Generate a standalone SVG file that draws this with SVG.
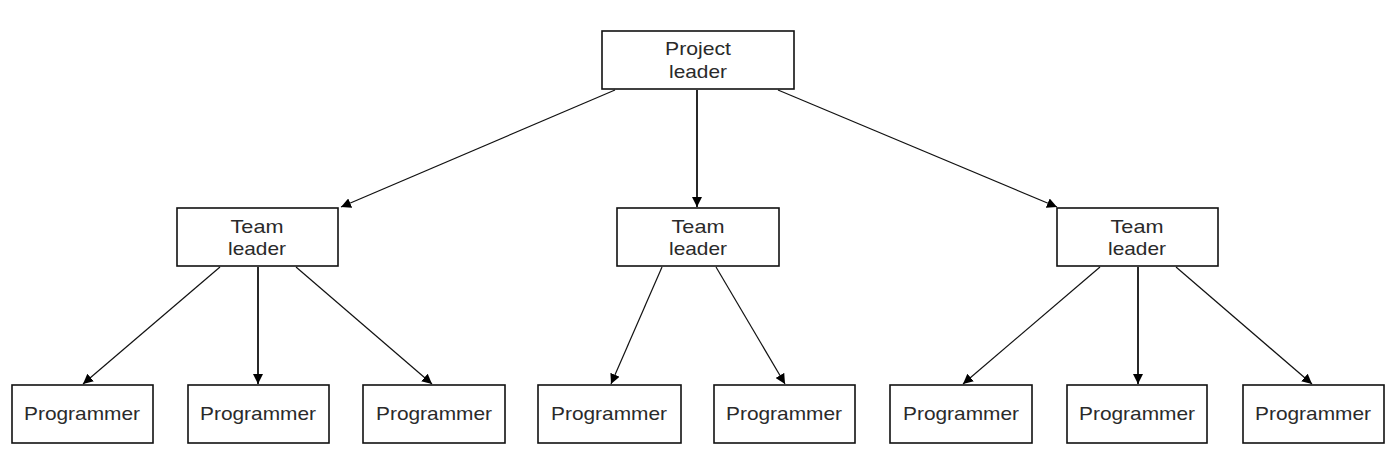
<svg xmlns="http://www.w3.org/2000/svg" width="1392" height="460" viewBox="0 0 1392 460">
<defs>
<marker id="ah" viewBox="0 0 10 10" refX="10" refY="5" markerWidth="10" markerHeight="10" markerUnits="userSpaceOnUse" orient="auto">
<path d="M0,0 L10,5 L0,10 Z" fill="#000"/>
</marker>
<style>
.box{fill:#fff;stroke:#111;stroke-width:1.6}
.t{font-family:"Liberation Sans",Arial,sans-serif;font-size:19px;fill:#2a2a2a;text-anchor:middle}
.c line{stroke:#111;stroke-width:1.2;marker-end:url(#ah)}
.c line.v{stroke-width:1.8}
</style>
</defs>
<rect width="1392" height="460" fill="#fff"/>
<g class="c" id="connectors">
<line x1="615" y1="90" x2="341" y2="207"/>
<line class="v" x1="697" y1="90" x2="697" y2="207"/>
<line x1="778" y1="90" x2="1057" y2="207"/>
<line x1="220" y1="267" x2="83" y2="384"/>
<line class="v" x1="258" y1="267" x2="258" y2="384"/>
<line x1="296" y1="267" x2="432" y2="384"/>
<line x1="662" y1="267" x2="611" y2="384"/>
<line x1="716" y1="267" x2="785" y2="384"/>
<line x1="1100" y1="267" x2="963" y2="384"/>
<line class="v" x1="1138" y1="267" x2="1138" y2="384"/>
<line x1="1176" y1="267" x2="1312" y2="384"/>
</g>
<g id="project-leader"><rect class="box" x="602" y="31" width="192" height="58"/><text class="t" x="698" y="55" textLength="66" lengthAdjust="spacingAndGlyphs">Project</text><text class="t" x="698" y="78" textLength="58" lengthAdjust="spacingAndGlyphs">leader</text></g>
<g id="team-leader-1"><rect class="box" x="177" y="208" width="161" height="58"/><text class="t" x="257" y="233" textLength="53" lengthAdjust="spacingAndGlyphs">Team</text><text class="t" x="257" y="255" textLength="58" lengthAdjust="spacingAndGlyphs">leader</text></g>
<g id="team-leader-2"><rect class="box" x="617" y="208" width="162" height="58"/><text class="t" x="698" y="233" textLength="53" lengthAdjust="spacingAndGlyphs">Team</text><text class="t" x="698" y="255" textLength="58" lengthAdjust="spacingAndGlyphs">leader</text></g>
<g id="team-leader-3"><rect class="box" x="1057" y="208" width="161" height="58"/><text class="t" x="1137" y="233" textLength="53" lengthAdjust="spacingAndGlyphs">Team</text><text class="t" x="1137" y="255" textLength="58" lengthAdjust="spacingAndGlyphs">leader</text></g>
<g id="programmer-1"><rect class="box" x="12" y="385" width="141" height="58"/><text class="t" x="82" y="420" textLength="116" lengthAdjust="spacingAndGlyphs">Programmer</text></g>
<g id="programmer-2"><rect class="box" x="188" y="385" width="141" height="58"/><text class="t" x="258" y="420" textLength="116" lengthAdjust="spacingAndGlyphs">Programmer</text></g>
<g id="programmer-3"><rect class="box" x="363" y="385" width="142" height="58"/><text class="t" x="434" y="420" textLength="116" lengthAdjust="spacingAndGlyphs">Programmer</text></g>
<g id="programmer-4"><rect class="box" x="538" y="385" width="143" height="58"/><text class="t" x="609" y="420" textLength="116" lengthAdjust="spacingAndGlyphs">Programmer</text></g>
<g id="programmer-5"><rect class="box" x="714" y="385" width="141" height="58"/><text class="t" x="784" y="420" textLength="116" lengthAdjust="spacingAndGlyphs">Programmer</text></g>
<g id="programmer-6"><rect class="box" x="890" y="385" width="142" height="58"/><text class="t" x="961" y="420" textLength="116" lengthAdjust="spacingAndGlyphs">Programmer</text></g>
<g id="programmer-7"><rect class="box" x="1067" y="385" width="140" height="58"/><text class="t" x="1137" y="420" textLength="116" lengthAdjust="spacingAndGlyphs">Programmer</text></g>
<g id="programmer-8"><rect class="box" x="1243" y="385" width="141" height="58"/><text class="t" x="1313" y="420" textLength="116" lengthAdjust="spacingAndGlyphs">Programmer</text></g>
</svg>
